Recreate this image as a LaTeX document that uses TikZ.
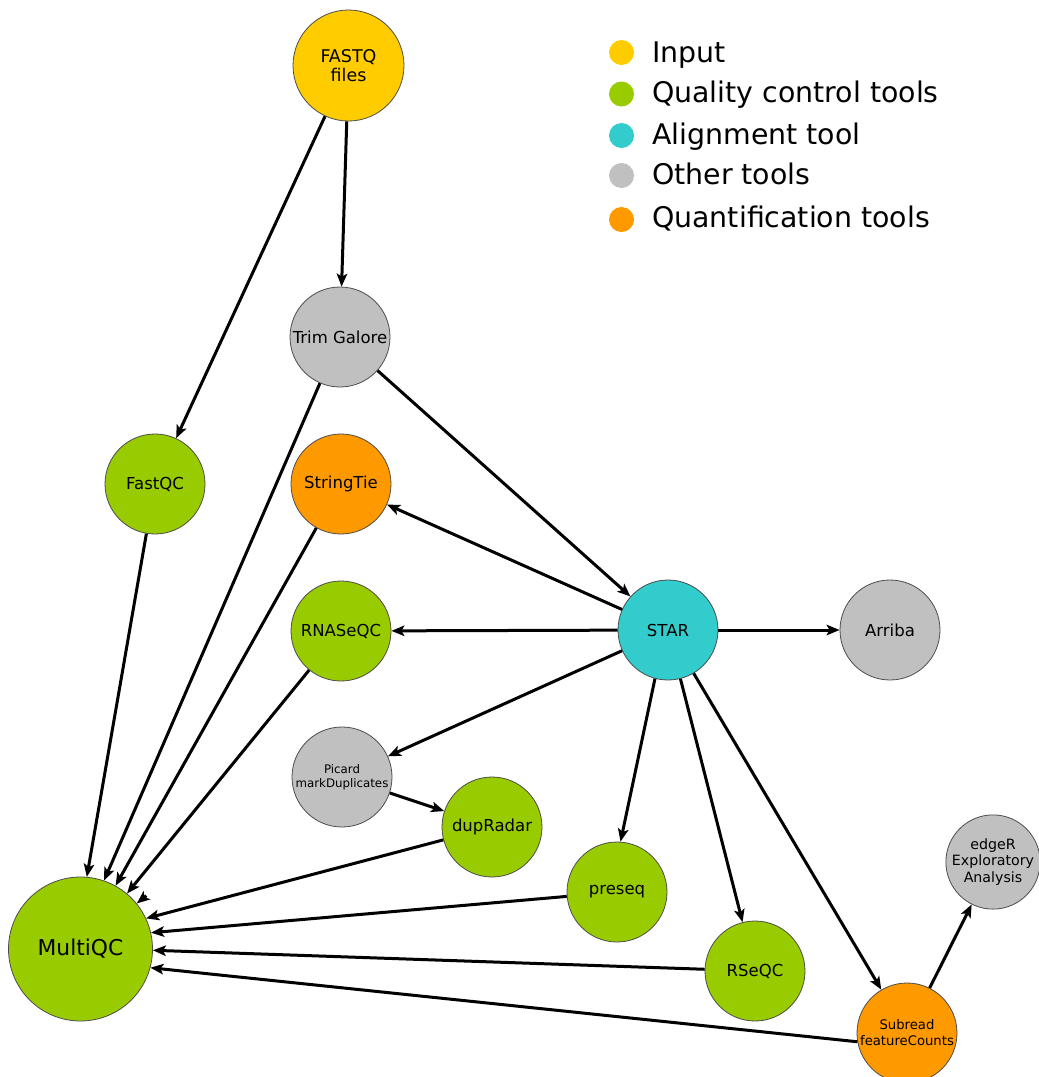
\documentclass[tikz,border=0pt]{standalone}
\usepackage{fontspec}
\setmainfont{DejaVu Sans}
\usetikzlibrary{arrows.meta,calc}
\definecolor{cin}{HTML}{FFCC00}
\definecolor{cqc}{HTML}{99CC00}
\definecolor{cal}{HTML}{33CCCC}
\definecolor{cot}{HTML}{C0C0C0}
\definecolor{cqu}{HTML}{FF9900}
\tikzset{
  tool/.style={circle, draw=black!70, line width=0.8pt, minimum size=100pt, inner sep=0pt,
    align=center, font=\fontsize{16.5}{19.5}\selectfont},
  arr/.style={line width=3pt, black, -{Stealth[length=13pt,width=10.5pt,inset=3pt]}},
  legdot/.style={circle, minimum size=25pt, inner sep=0pt, draw=none},
  legtext/.style={anchor=base west, inner sep=0pt, font=\fontsize{28.4}{34}\selectfont}
}
\begin{document}
\begin{tikzpicture}[x=1pt,y=-1pt]
\useasboundingbox (0,0) rectangle (1039,1077);

% legend
\node[legdot, fill=cin] (d1) at (621.5,52.5) {};
\node[legtext] (t1) at (652,62) {Input};
\node[legdot, fill=cqc] (d2) at (621.5,94) {};
\node[legtext] (t2) at (652,102) {Quality control tools};
\node[legdot, fill=cal] (d3) at (621.5,135.5) {};
\node[legtext] (t3) at (652,144) {Alignment tool};
\node[legdot, fill=cot] (d4) at (621.5,175.5) {};
\node[legtext] (t4) at (652,184) {Other tools};
\node[legdot, fill=cqu] (d5) at (621.5,219.5) {};
\node[legtext] (t5) at (652,227) {Quantification tools};

% nodes
\node[tool, fill=cin, minimum size=111pt, font=\fontsize{17.5}{19.5}\selectfont] (FASTQ) at (348.5,65.5) {FASTQ\\files};
\node[tool, fill=cot] (Trim) at (340,337) {Trim Galore};
\node[tool, fill=cqc] (FastQC) at (155,484) {FastQC};
\node[tool, fill=cqu] (StringTie) at (341,484) {StringTie};
\node[tool, fill=cqc] (RNASeQC) at (341,631) {RNASeQC};
\node[tool, fill=cot, font=\fontsize{11.8}{13.5}\selectfont] (Picard) at (342,777) {Picard\\markDuplicates};
\node[tool, fill=cqc] (dupRadar) at (492,827) {dupRadar};
\node[tool, fill=cal] (STAR) at (668,630) {STAR};
\node[tool, fill=cot] (Arriba) at (890,630) {Arriba};
\node[tool, fill=cqc] (preseq) at (617,892) {preseq};
\node[tool, fill=cqc] (RSeQC) at (755,971) {RSeQC};
\node[tool, fill=cqu, font=\fontsize{13.2}{16}\selectfont] (Subread) at (907,1033) {Subread\\featureCounts};
\node[tool, fill=cot, minimum size=92pt, font=\fontsize{14.2}{16.5}\selectfont] (edgeR) at (993,862) {edgeR\\Exploratory\\Analysis};
\node[tool, fill=cqc, minimum size=144pt, font=\fontsize{21.8}{25}\selectfont] (MultiQC) at (80.5,949) {MultiQC};

% edges
\draw[arr] (FASTQ) -- (FastQC);
\draw[arr] (FASTQ) -- (Trim);
\draw[arr] (Trim) -- (STAR);
\draw[arr] (Trim) -- (MultiQC.71.7);
\draw[arr] (FastQC) -- (MultiQC.85);
\draw[arr] (StringTie) -- (MultiQC.61);
\draw[arr] (RNASeQC) -- (MultiQC.50);
\draw[arr] (STAR) -- (StringTie);
\draw[arr] (STAR) -- (RNASeQC);
\draw[arr] (STAR) -- (Arriba);
\draw[arr] (STAR) -- (Picard);
\draw[arr] (Picard) -- (dupRadar);
\draw[arr] (dupRadar) -- (MultiQC.25);
\draw[arr] (STAR.255.4) -- (preseq.86.7);
\draw[arr] (preseq) -- (MultiQC.13);
\draw[arr] (STAR) -- (RSeQC);
\draw[arr] (RSeQC) -- (MultiQC.-1);
\draw[arr] (STAR) -- (Subread);
\draw[arr] (Subread.190) -- (MultiQC.-15);
\draw[arr] (Subread) -- (edgeR);
\coordinate (pm) at ($(MultiQC.center)!1.17!(MultiQC.39)$);
\draw[arr] (pm) -- (MultiQC.39);
\end{tikzpicture}
\end{document}
